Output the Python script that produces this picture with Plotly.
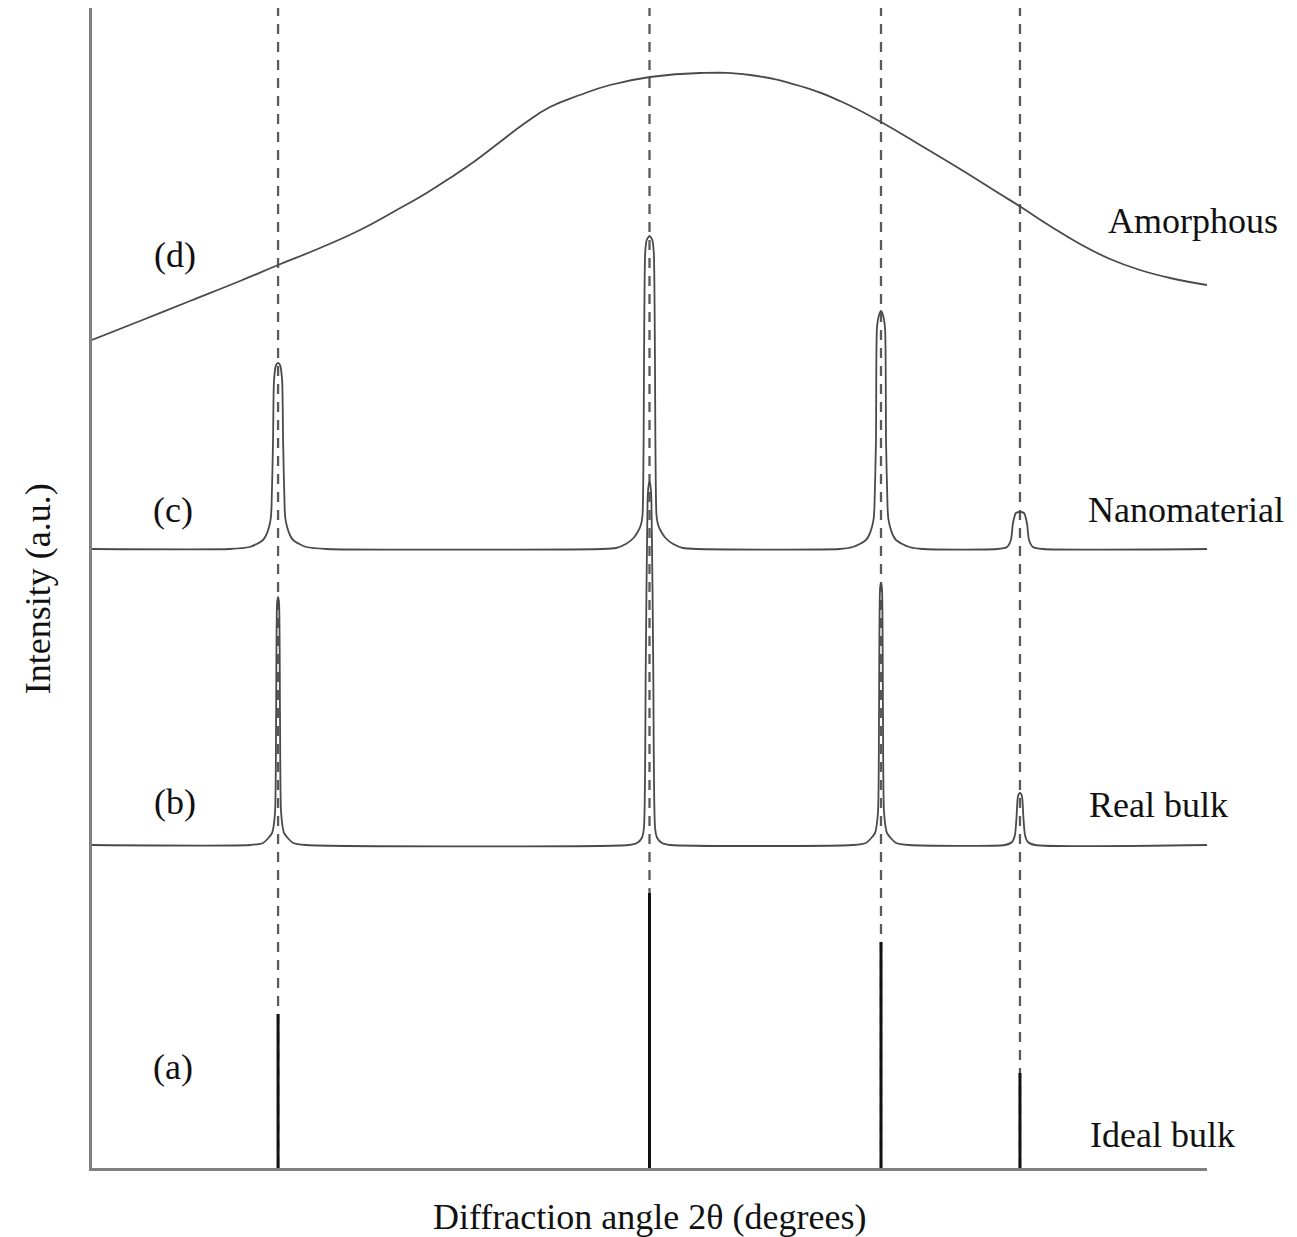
import plotly.graph_objects as go

# Reflection positions shared by every pattern (2θ, degrees)
peak_pos = [23.35, 50.0, 66.61, 76.58]

# (a) Ideal bulk: delta-like reflections
ideal_height = [15.4, 27.5, 22.6, 9.5]

# (b) Real bulk: narrow instrument-broadened peaks on baseline 32.3
bulk_x = [10.0,
          21.34, 22.27, 22.92, 23.13, 23.21, 23.28, 23.35, 23.42, 23.49, 23.57, 23.78, 24.43, 25.36,
          48.5, 49.1, 49.45, 49.6, 49.73, 49.86, 49.93, 50.0, 50.07, 50.14, 50.27, 50.4, 50.55, 50.9, 51.5,
          64.60, 65.53, 66.18, 66.39, 66.47, 66.54, 66.61, 66.68, 66.75, 66.83, 67.04, 67.69, 68.62,
          75.50, 76.01, 76.22, 76.33, 76.44, 76.58, 76.72, 76.83, 76.94, 77.15, 77.66,
          90.0]
bulk_y = [32.3,
          32.3, 32.5, 33.5, 35.5, 45.0, 56.5, 57.1, 56.5, 45.0, 35.5, 33.5, 32.5, 32.3,
          32.3, 32.5, 33.0, 34.0, 50.0, 66.6, 68.2, 68.6, 68.2, 66.6, 50.0, 34.0, 33.0, 32.5, 32.3,
          32.3, 32.5, 33.5, 35.5, 46.0, 57.9, 58.5, 57.9, 46.0, 35.5, 33.5, 32.5, 32.3,
          32.3, 32.6, 33.3, 35.0, 37.2, 37.5, 37.2, 35.0, 33.3, 32.6, 32.3,
          32.3]

# (c) Nanomaterial: size-broadened peaks on baseline 61.9
nano_x = [10.0,
          19.88, 21.32, 21.82, 22.27, 22.50, 22.70, 22.83, 22.88, 22.99, 23.06, 23.21, 23.35,
          23.49, 23.64, 23.71, 23.82, 23.87, 24.00, 24.20, 24.43, 24.88, 25.38, 26.82,
          46.60, 47.60, 48.30, 48.85, 49.15, 49.38, 49.50, 49.57, 49.69, 49.80, 50.0,
          50.20, 50.31, 50.43, 50.50, 50.62, 50.85, 51.15, 51.70, 52.40, 53.40,
          63.61, 64.58, 65.08, 65.53, 65.76, 65.96, 66.09, 66.14, 66.25, 66.32, 66.47, 66.61,
          66.75, 66.90, 66.97, 67.08, 67.13, 67.26, 67.46, 67.69, 68.14, 68.64, 69.61,
          74.93, 75.65, 75.93, 76.08, 76.29, 76.58, 76.87, 77.08, 77.23, 77.51, 78.23,
          90.0]
nano_y = [61.9,
          61.9, 62.1, 62.4, 62.8, 63.3, 64.1, 65.0, 66.1, 72.8, 78.8, 80.3, 80.5,
          80.3, 78.8, 72.8, 66.1, 65.0, 64.1, 63.3, 62.8, 62.4, 62.1, 61.9,
          61.9, 62.0, 62.4, 63.0, 63.6, 64.3, 65.3, 71.5, 91.5, 92.8, 93.2,
          92.8, 91.5, 71.5, 65.3, 64.3, 63.6, 63.0, 62.4, 62.0, 61.9,
          61.9, 62.1, 62.4, 62.8, 63.3, 64.1, 65.0, 66.1, 72.8, 84.0, 85.3, 85.7,
          85.3, 84.0, 72.8, 66.1, 65.0, 64.1, 63.3, 62.8, 62.4, 62.1, 61.9,
          61.9, 62.1, 62.8, 64.5, 65.5, 65.6, 65.5, 64.5, 62.8, 62.1, 61.9,
          61.9]

# (d) Amorphous: single broad halo
amor_x = [10.00, 13.44, 17.03, 20.62, 23.35, 26.36, 29.23, 31.74, 33.89, 35.69, 37.48,
          39.27, 41.07, 42.86, 45.01, 47.17, 50.04, 53.63, 57.21, 60.80, 63.67, 66.61,
          69.41, 72.28, 75.15, 76.65, 78.74, 80.89, 83.04, 85.19, 87.35, 90.00]
amor_y = [82.8, 84.7, 86.7, 88.7, 90.3, 92.0, 93.8, 95.7, 97.4, 99.0, 100.7,
          102.6, 104.5, 106.1, 107.3, 108.3, 109.1, 109.5, 109.3, 108.2, 106.7, 104.6,
          102.3, 99.9, 97.4, 96.1, 94.2, 92.4, 90.9, 89.8, 89.0, 88.3]

x_range = [10, 90]
y_range = [0, 116]

curve_color = "#4a4a4a"
serif = "Liberation Serif, Times New Roman, serif"

fig = go.Figure()

# dashed guide lines through each reflection
gx, gy = [], []
for p in peak_pos:
    gx += [p, p, None]
    gy += [y_range[0], y_range[1], None]
fig.add_trace(go.Scatter(x=gx, y=gy, mode="lines",
                         line=dict(color="#5a5a5a", width=2.3, dash="10px,8px"),
                         hoverinfo="skip"))

# ideal bulk sticks
sx, sy = [], []
for p, h in zip(peak_pos, ideal_height):
    sx += [p, p, None]
    sy += [0, h, None]
fig.add_trace(go.Scatter(x=sx, y=sy, mode="lines",
                         line=dict(color="#111111", width=3)))

fig.add_trace(go.Scatter(x=bulk_x, y=bulk_y, mode="lines",
                         line=dict(color=curve_color, width=1.8, shape="spline", smoothing=0.6)))
fig.add_trace(go.Scatter(x=nano_x, y=nano_y, mode="lines",
                         line=dict(color=curve_color, width=1.8, shape="spline", smoothing=0.6)))
fig.add_trace(go.Scatter(x=amor_x, y=amor_y, mode="lines",
                         line=dict(color=curve_color, width=1.8, shape="spline", smoothing=1.3)))

txt = dict(family=serif, size=36, color="#111111")

labels = [("(d)", 15.96, 91.3), ("(c)", 15.81, 65.8), ("(b)", 15.96, 36.6), ("(a)", 15.81, 10.1),
          ("Amorphous", 89.0, 94.7), ("Nanomaterial", 88.5, 65.8),
          ("Real bulk", 86.5, 36.3), ("Ideal bulk", 86.8, 3.3)]
for t, x, y in labels:
    fig.add_annotation(x=x, y=y, xref="x", yref="y", text=t, showarrow=False,
                       font=txt, xanchor="center", yanchor="middle")

fig.add_annotation(x=0.5, y=-0.042, xref="paper", yref="paper",
                   text="Diffraction angle 2θ (degrees)", showarrow=False,
                   font=txt, xanchor="center", yanchor="middle")
fig.add_annotation(x=-0.0484, y=0.499, xref="paper", yref="paper",
                   text="Intensity (a.u.)", showarrow=False, textangle=-90,
                   font=txt, xanchor="center", yanchor="middle")

axis_style = dict(showline=True, linecolor="#808080", linewidth=3, showgrid=False,
                  zeroline=False, showticklabels=False, ticks="")
fig.update_xaxes(range=x_range, **axis_style)
fig.update_yaxes(range=y_range, **axis_style)

fig.update_layout(width=1297, height=1237, showlegend=False,
                  margin=dict(l=92, r=90, t=8, b=69),
                  paper_bgcolor="white", plot_bgcolor="white")

fig.write_html("out.html", config={"displayModeBar": False})
